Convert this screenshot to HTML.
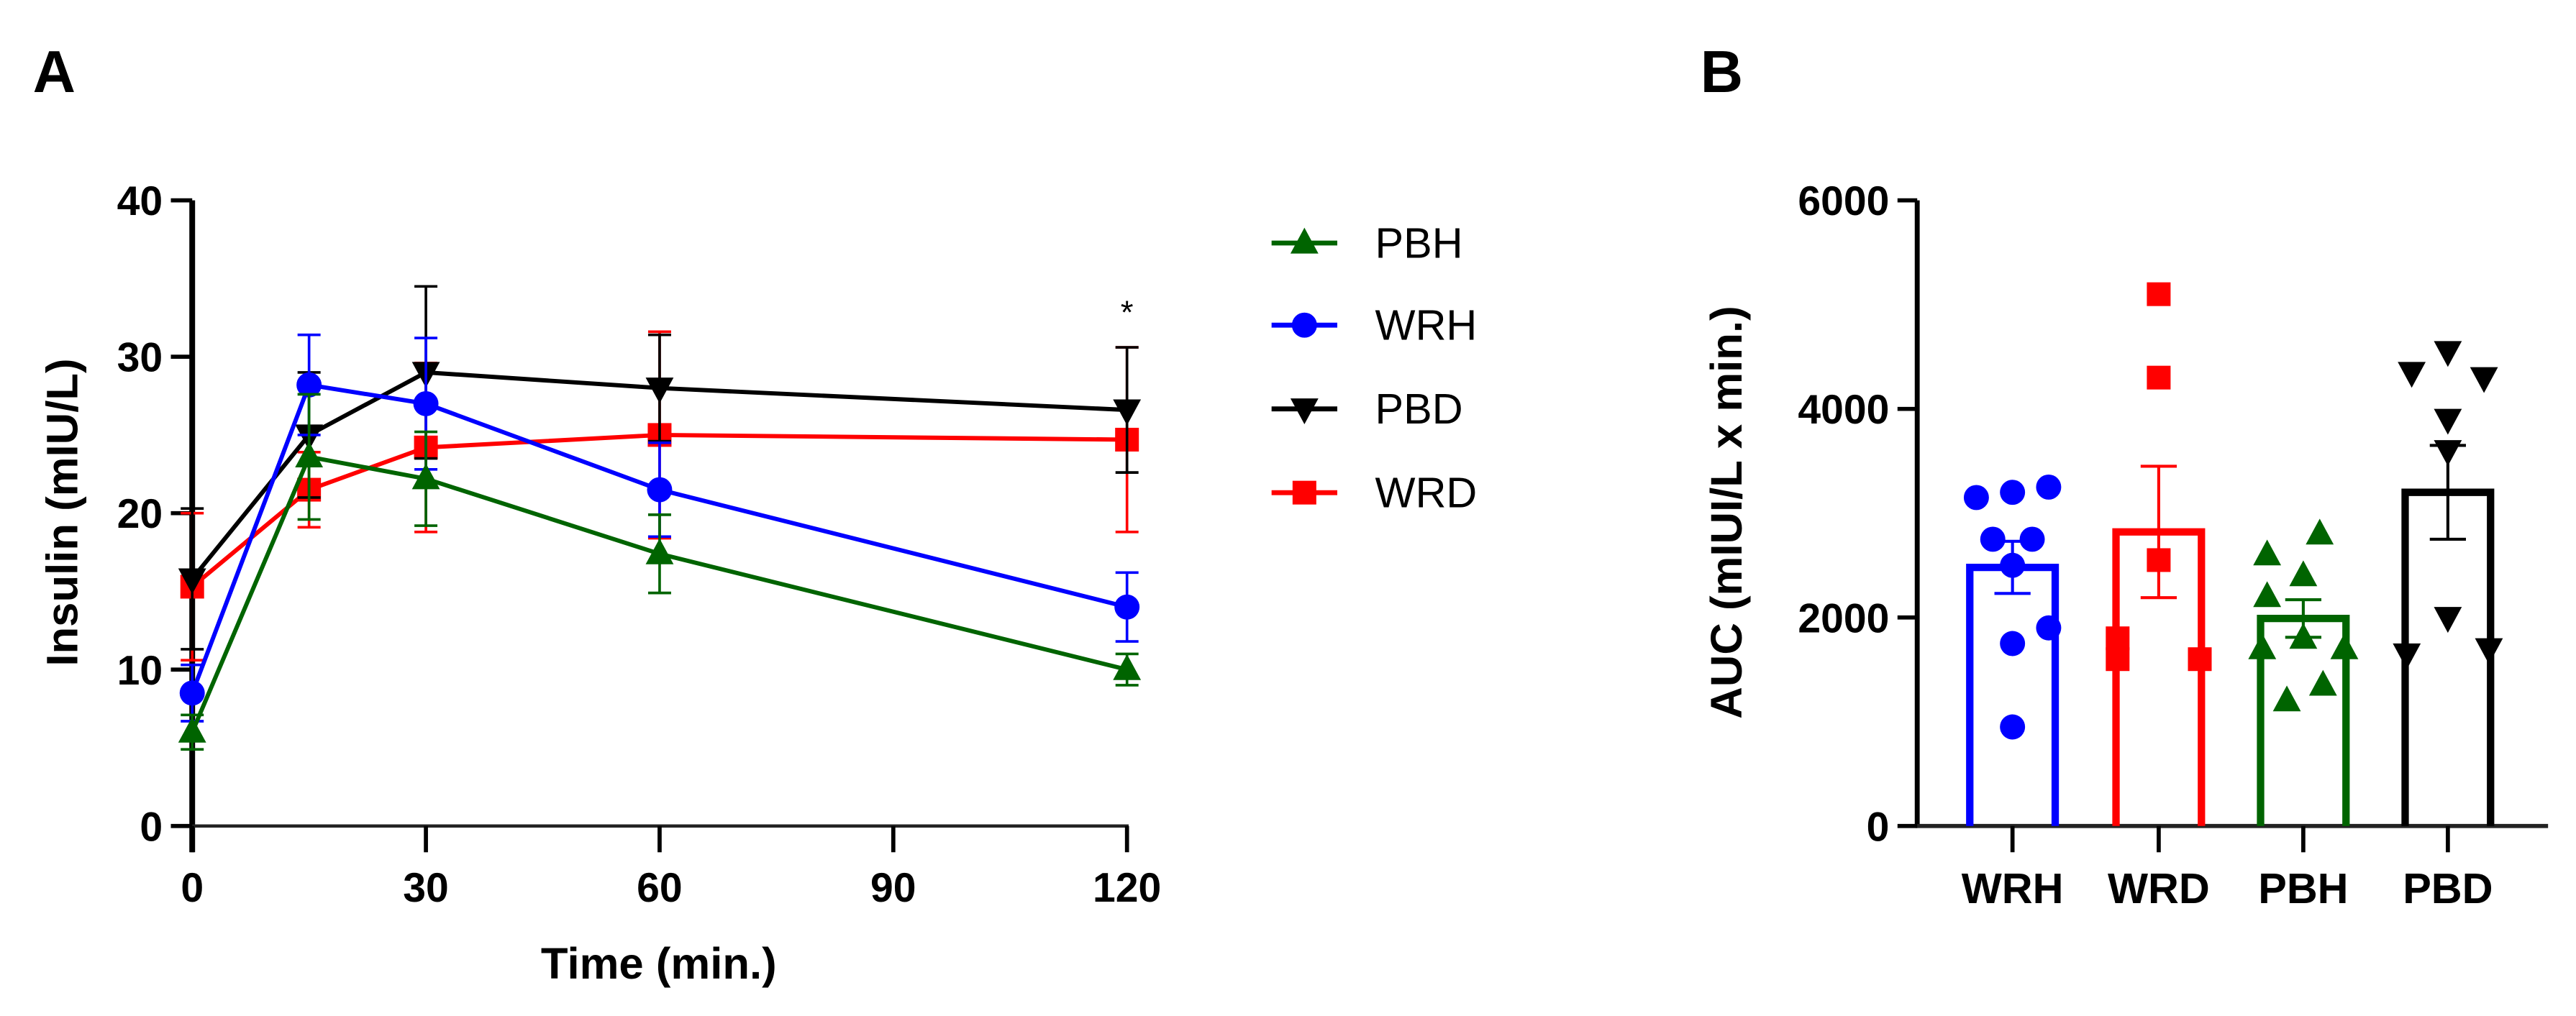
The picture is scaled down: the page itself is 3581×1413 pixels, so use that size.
<!DOCTYPE html>
<html><head><meta charset="utf-8"><style>
html,body{margin:0;padding:0;background:#fff}
svg{display:block}
text{font-family:"Liberation Sans",Arial,sans-serif}
</style></head><body>
<svg id="fig" width="3581" height="1413" viewBox="0 0 1568 618.7" preserveAspectRatio="none" xmlns="http://www.w3.org/2000/svg">
<rect width="1568" height="619" fill="#fff"/>
<text x="20" y="56" font-size="36" font-weight="bold">A</text>
<text x="1035" y="56" font-size="36" font-weight="bold">B</text>
<g id="ga"></g>
<g id="gb"></g>
</svg>
<script>
const times=[0,15,30,60,120];
const xTicks=[0,30,60,90,120];
const yTicksA=[0,10,20,30,40];
const seriesNames=["PBH","WRH","PBD","WRD"];
const seriesColors=["#006400","#0000ff","#000000","#ff0000"];
const pbhMean=[6,23.6,22.2,17.4,10];
const pbhErr=[1.1,4,3,2.5,1];
const wrhMean=[8.5,28.2,27,21.5,14];
const wrhErr=[1.8,3.2,4.2,3,2.2];
const pbdMean=[15.8,25,29,28,26.6];
const pbdErr=[4.5,4,5.5,3.4,4];
const wrdMean=[15.3,21.5,24.2,25,24.7];
const wrdErr=[4.7,2.4,5.4,6.6,5.9];

const groups=["WRH","WRD","PBH","PBD"];
const groupColors=["#0000ff","#ff0000","#006400","#000000"];
const barMeans=[2480,2820,1990,3200];
const barSem=[250,630,180,450];
const yTicksB=[0,2000,4000,6000];
const wrhPts=[3150,3200,3250,2750,2750,2500,1900,1750,950];
const wrdPts=[5100,4300,2550,1800,1600,1600];
const pbhPts=[2800,2600,2400,2200,1800,1700,1700,1350,1200];
const pbdPts=[4550,4350,4300,3900,3600,2000,1700,1650];
const wrhJit=[-22,0,22,-12,12,0,22,0,0];
const wrdJit=[0,0,0,-25,-25,25];
const pbhJit=[10,-22,0,-22,0,-25,25,12,-10];
const pbdJit=[0,-22,22,0,0,0,25,-25];

const NS="http://www.w3.org/2000/svg";
function mk(p,tag,at){const e=document.createElementNS(NS,tag);for(const k in at)e.setAttribute(k,at[k]);p.appendChild(e);return e;}

// Panel A
const ga=document.getElementById('ga');
const xA=t=>117+(t/120)*(686-117);
const yA=v=>503-(v/40)*(503-122);
let e;
e=mk(ga,'line',{x1:117,y1:122,x2:117,y2:519,stroke:'#000','stroke-width':3.5});

e=mk(ga,'line',{x1:117,y1:503,x2:687,y2:503,stroke:'#222','stroke-width':2});

yTicksA.forEach(v=>{
  e=mk(ga,'line',{x1:104,y1:yA(v),x2:117,y2:yA(v),stroke:'#000','stroke-width':2.5});
  
  e=mk(ga,'text',{x:99,y:yA(v)+9,'font-size':25,'font-weight':'bold','text-anchor':'end'});e.textContent=v;
  
});
xTicks.forEach(t=>{
  e=mk(ga,'line',{x1:xA(t),y1:503,x2:xA(t),y2:519,stroke:'#000','stroke-width':2.5});
  
  e=mk(ga,'text',{x:xA(t),y:549,'font-size':25,'font-weight':'bold','text-anchor':'middle'});e.textContent=t;
  
});
e=mk(ga,'text',{x:401,y:596,'font-size':27,'font-weight':'bold','text-anchor':'middle'});e.textContent='Time (min.)';

e=mk(ga,'text',{x:0,y:0,'font-size':27,'font-weight':'bold','text-anchor':'middle',transform:'translate(47,312) rotate(-90)'});e.textContent='Insulin (mIU/L)';


function marker(p,kind,x,y,c,r){
  if(kind==='PBH')return mk(p,'polygon',{points:`${x},${y-r*1.1} ${x-r},${y+r*0.75} ${x+r},${y+r*0.75}`,fill:c});
  if(kind==='WRH')return mk(p,'circle',{cx:x,cy:y,r:r*0.9,fill:c});
  if(kind==='PBD')return mk(p,'polygon',{points:`${x-r},${y-r*0.75} ${x+r},${y-r*0.75} ${x},${y+r*1.1}`,fill:c});
  return mk(p,'rect',{x:x-r*0.85,y:y-r*0.85,width:r*1.7,height:r*1.7,fill:c});
}
const means=[pbhMean,wrhMean,pbdMean,wrdMean];
const errs=[pbhErr,wrhErr,pbdErr,wrdErr];
const order=[3,2,1,0];
order.forEach(i=>{
  const c=seriesColors[i];
  const g=mk(ga,'g',{});
  
  
  times.forEach((t,j)=>{
    const x=xA(t),y1=yA(means[i][j]-errs[i][j]),y2=yA(means[i][j]+errs[i][j]);
    e=mk(g,'path',{d:`M${x},${y1}V${y2}M${x-7},${y1}H${x+7}M${x-7},${y2}H${x+7}`,stroke:c,'stroke-width':1.6,fill:'none'});
    
  });
  e=mk(g,'polyline',{points:times.map((t,j)=>xA(t)+','+yA(means[i][j])).join(' '),stroke:c,'stroke-width':2.6,fill:'none'});
  
  times.forEach((t,j)=>{
    e=marker(g,seriesNames[i],xA(t),yA(means[i][j]),c,8.5);
    
  });
});
e=mk(ga,'text',{x:xA(120),y:197,'font-size':20,'text-anchor':'middle'});e.textContent='*';


// legend
const legY=[148,198,249,300];
seriesNames.forEach((n,i)=>{
  const g=mk(ga,'g',{});
  
  
  mk(g,'line',{x1:774,y1:legY[i],x2:814,y2:legY[i],stroke:seriesColors[i],'stroke-width':3});
  marker(g,n,794,legY[i],seriesColors[i],8.5);
  const tx=mk(g,'text',{x:837,y:legY[i]+9,'font-size':26});tx.textContent=n;
});

// Panel B
const gb=document.getElementById('gb');
const centers=[1225,1314,1402,1490];
const yB=v=>503-(v/6000)*(503-122);
e=mk(gb,'line',{x1:1167,y1:122,x2:1167,y2:503,stroke:'#000','stroke-width':3});

e=mk(gb,'line',{x1:1166,y1:503,x2:1551,y2:503,stroke:'#222','stroke-width':2.5});

yTicksB.forEach(v=>{
  e=mk(gb,'line',{x1:1155,y1:yB(v),x2:1167,y2:yB(v),stroke:'#000','stroke-width':2.5});
  
  e=mk(gb,'text',{x:1150,y:yB(v)+9,'font-size':25,'font-weight':'bold','text-anchor':'end'});e.textContent=v;
  
});
e=mk(gb,'text',{x:0,y:0,'font-size':27,'font-weight':'bold','text-anchor':'middle',transform:'translate(1060,312) rotate(-90)'});e.textContent='AUC (mIUI/L x min.)';

const pts=[wrhPts,wrdPts,pbhPts,pbdPts];
const jits=[wrhJit,wrdJit,pbhJit,pbdJit];
const kinds=["WRH","WRD","PBH","PBD"];
groups.forEach((gname,i)=>{
  const c=groupColors[i],cx=centers[i];
  const g=mk(gb,'g',{});
  
  
  e=mk(g,'line',{x1:cx,y1:503,x2:cx,y2:519,stroke:'#000','stroke-width':2.5});
  
  e=mk(g,'text',{x:cx,y:550,'font-size':26,'font-weight':'bold','text-anchor':'middle'});e.textContent=gname;
  
  e=mk(g,'path',{d:`M${cx-26},503V${yB(barMeans[i])}H${cx+26}V503`,stroke:c,'stroke-width':4.5,fill:'none'});
  
  const y1=yB(barMeans[i]-barSem[i]),y2=yB(barMeans[i]+barSem[i]);
  e=mk(g,'path',{d:`M${cx},${y1}V${y2}M${cx-11},${y1}H${cx+11}M${cx-11},${y2}H${cx+11}`,stroke:c,'stroke-width':1.8,fill:'none'});
  
  pts[i].forEach((v,j)=>{
    e=marker(g,kinds[i],cx+jits[i][j],yB(v),c,8.5);
    
  });
});
</script>
</body></html>
